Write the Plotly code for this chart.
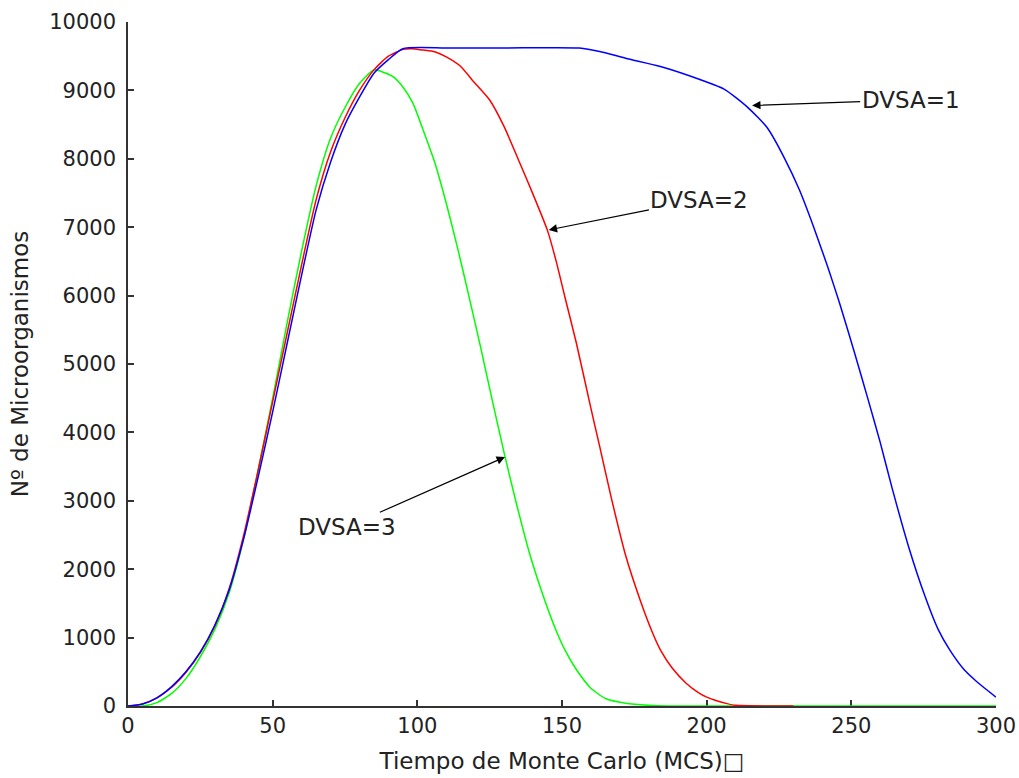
import plotly.graph_objects as go

# Time (MCS) and number of microorganisms for each DVSA value
x_dvsa1 = [0, 5, 10, 15, 20, 25, 30, 35, 40, 45, 50, 55, 60, 65, 70, 75, 80, 85, 90, 95,
           110, 130, 156, 163, 172, 184, 195, 206, 214, 221, 227, 232, 237, 242, 246, 251, 256, 260, 264,
           270, 275.5, 280, 284, 289, 293, 297, 300]
y_dvsa1 = [0, 30, 120, 280, 500, 790, 1180, 1700, 2450, 3350, 4300, 5300, 6300, 7250, 7950, 8500, 8900, 9250, 9450, 9610,
           9620, 9620, 9620, 9570, 9470, 9350, 9200, 9020, 8760, 8450, 8000, 7550, 7000, 6400, 5880, 5180, 4450, 3850, 3200,
           2300, 1600, 1120, 820, 530, 370, 230, 130]

x_dvsa2 = [0, 5, 10, 15, 20, 25, 30, 35, 40, 45, 50, 55, 60, 65, 70, 75, 80, 85, 90, 95,
           98, 102, 106, 110, 115, 119, 125, 130, 135, 140, 145, 148, 151, 155, 160, 163, 167, 172, 177,
           181, 184, 188, 193, 197, 200, 204, 207, 210, 230]
y_dvsa2 = [0, 30, 120, 270, 490, 780, 1170, 1720, 2500, 3450, 4450, 5450, 6450, 7400, 8100, 8600, 9000, 9300, 9500, 9600,
           9610, 9590, 9565, 9490, 9350, 9150, 8860, 8470, 7980, 7480, 6950, 6500, 5980, 5300, 4350, 3800, 3050, 2200, 1550,
           1100, 820, 560, 330, 200, 130, 70, 35, 10, 0]

x_dvsa3 = [0, 5, 10, 15, 20, 25, 30, 35, 40, 45, 50, 55, 60, 65, 70, 75, 80, 85, 88, 91.6, 95, 98.5, 102,
           106, 110, 114, 118, 122, 126, 130, 134, 139, 144, 148, 151, 155, 160, 165, 172, 180, 187, 300]
y_dvsa3 = [0, 0, 50, 180, 400, 720, 1120, 1660, 2450, 3450, 4500, 5600, 6650, 7600, 8300, 8750, 9100, 9300, 9270, 9200,
           9050, 8810, 8420, 7950, 7350, 6680, 5960, 5220, 4450, 3700, 3000, 2200, 1550, 1100, 820, 530, 260, 110,
           40, 10, 0, 0]

x_ticks = [0, 50, 100, 150, 200, 250, 300]
y_ticks = [0, 1000, 2000, 3000, 4000, 5000, 6000, 7000, 8000, 9000, 10000]

labels = ["DVSA=1", "DVSA=2", "DVSA=3"]
x_title = "Tiempo de Monte Carlo (MCS)\u25a1"
y_title = "Nº de Microorganismos"

font_family = "DejaVu Sans, Verdana, sans-serif"

fig = go.Figure()
fig.add_trace(go.Scatter(x=x_dvsa3, y=y_dvsa3, mode="lines", line=dict(color="#00ff00", width=1.5, shape="spline", smoothing=0.6), name=labels[2]))
fig.add_trace(go.Scatter(x=x_dvsa2, y=y_dvsa2, mode="lines", line=dict(color="#ff0000", width=1.5, shape="spline", smoothing=0.6), name=labels[1]))
fig.add_trace(go.Scatter(x=x_dvsa1, y=y_dvsa1, mode="lines", line=dict(color="#0000ff", width=1.5, shape="spline", smoothing=0.6), name=labels[0]))

# annotations: (head x, head y, text x, text y)
ann_pos = [(215.7, 8780, 270.5, 8860), (145.4, 6960, 197.5, 7400), (130.3, 3640, 75.7, 2620)]
for lab, (hx, hy, tx, ty) in zip(labels, ann_pos):
    fig.add_annotation(x=hx, y=hy, ax=tx, ay=ty, axref="x", ayref="y", xref="x", yref="y",
                       text=lab, showarrow=True, arrowhead=2, arrowsize=1.4, arrowwidth=1.2,
                       arrowcolor="#000000", font=dict(size=23, color="#222222", family=font_family))

axis_common = dict(showgrid=False, zeroline=False, showline=True, linecolor="#333333", linewidth=1.5,
                   ticks="inside", ticklen=6, tickcolor="#333333", tickwidth=1.5, mirror=False, automargin=False,
                   tickfont=dict(size=21, color="#222222", family=font_family), layer="below traces")

fig.update_layout(
    width=1019, height=778,
    margin=dict(l=128, r=23, t=22, b=72),
    plot_bgcolor="white", paper_bgcolor="white",
    showlegend=False,
    font=dict(family=font_family, color="#222222"),
    xaxis=dict(range=[0, 300], tickvals=x_ticks, ticktext=[str(v) for v in x_ticks], ticklabeloverflow="allow",
               title=dict(text=x_title, font=dict(size=23), standoff=16), **axis_common),
    yaxis=dict(range=[0, 10000], tickvals=y_ticks, ticktext=[str(v) for v in y_ticks], ticklabelstandoff=6,
               title=dict(text=y_title, font=dict(size=23), standoff=14), **axis_common),
)

# remove the default page margin so the 1019x778 figure fills the window exactly
fig.write_html("out.html", config={"displayModeBar": False},
               post_script="document.body.style.margin='0';document.body.style.overflow='hidden';")
